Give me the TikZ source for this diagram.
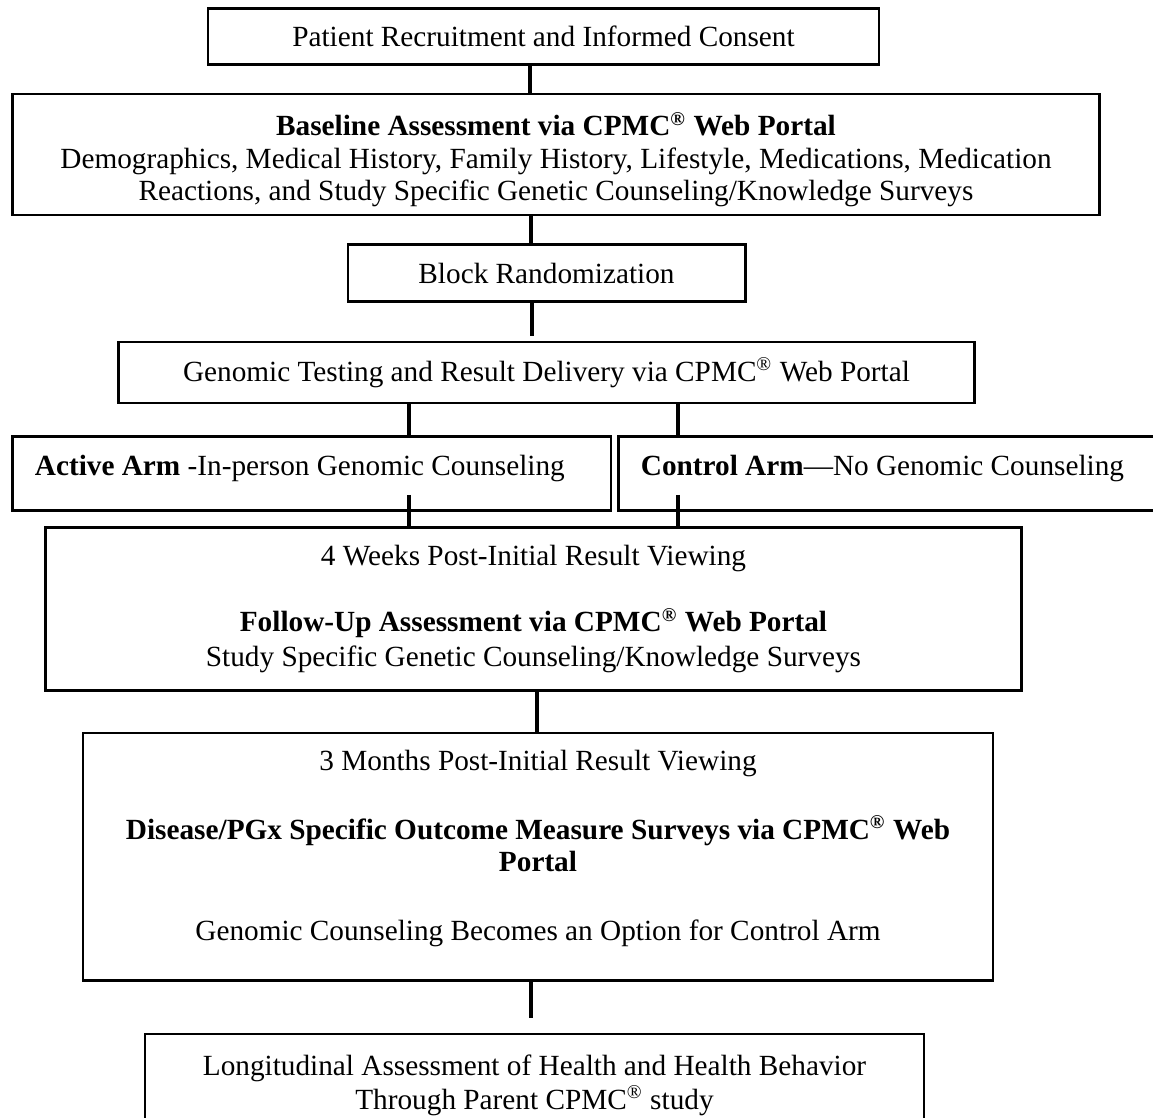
\documentclass[tikz,border=0pt]{standalone}
\usepackage{fontspec}
\setmainfont{Liberation Serif}
\tikzstyle{stage}=[draw, line width=1.2pt, inner sep=0pt, align=center, font=\fontsize{12}{13.3}\selectfont]
\tikzstyle{arm}=[stage, anchor=north west, align=flush left, inner xsep=9.2pt, text height=16pt, text depth=14.4pt]
\newcommand{\stage}{\node[stage]}
\newcommand{\cpmc}{CPMC\textsuperscript{\textregistered}}

\begin{document}
\begin{tikzpicture}[x=0.41pt, y=-0.41pt, every edge/.style={ draw, line width=1.6pt } ]
\useasboundingbox (0,0) rectangle (1153,1118);
\stage (recruit) at (543.5,36.5) [minimum width=275.1pt, minimum height=22.6pt] {Patient Recruitment and Informed Consent};
\stage (baseline) at (556,154.5) [minimum width=445.3pt, minimum height=49.6pt] {\rule{0pt}{14pt}\textbf{Baseline Assessment via \cpmc{} Web Portal}\\Demographics, Medical History, Family History, Lifestyle, Medications, Medication\\Reactions, and Study Specific Genetic Counseling/Knowledge Surveys};
\stage (random) at (546.5,273) [minimum width=162.8pt, minimum height=23pt] {Block Randomization};
\stage (genomic) at (546.5,372.5) [minimum width=350.6pt, minimum height=25pt] {Genomic Testing and Result Delivery via \cpmc{} Web Portal};
\node[arm, text width=227pt] (active) at (11,435) {\textbf{Active Arm} -In-person Genomic Counseling};
\node[arm, text width=210pt] (control) at (617,435) {\textbf{Control Arm}---No Genomic Counseling};
\stage (followup) at (533.5,609) [minimum width=399.8pt, minimum height=67.2pt] {4 Weeks Post-Initial Result Viewing\\[13.8pt]\textbf{Follow-Up Assessment via \cpmc{} Web Portal}\\[0.8pt]Study Specific Genetic Counseling/Knowledge Surveys};
\stage (outcome) at (538,856.5) [minimum width=373.1pt, minimum height=101.3pt] {3 Months Post-Initial Result Viewing\\[15pt]\textbf{Disease/PGx Specific Outcome Measure Surveys via \cpmc{} Web}\\\textbf{Portal}\\[15pt]Genomic Counseling Becomes an Option for Control Arm\rule[-9pt]{0pt}{0pt}};
\stage (longitudinal) at (534.5,1079) [minimum width=319.4pt, minimum height=36.9pt] {\rule{0pt}{13.5pt}Longitudinal Assessment of Health and Health Behavior\\[0.6pt]Through Parent \cpmc{} study};
% loose ends of the short links
\coordinate (randomEnd) at (532,336);
\coordinate (activeStart) at (409,495);
\coordinate (controlStart) at (678,495);
\coordinate (outcomeEnd) at (531,1018);
\path
(recruit.south -| 530,0) edge (baseline.north -| 530,0)
(baseline.south -| 531,0) edge (random.north -| 531,0)
(random.south -| randomEnd) edge (randomEnd)
(genomic.south -| activeStart) edge (active.north -| activeStart)
(genomic.south -| controlStart) edge (control.north -| controlStart)
(activeStart) edge (followup.north -| activeStart)
(controlStart) edge (followup.north -| controlStart)
(followup.south -| 537,0) edge (outcome.north -| 537,0)
(outcome.south -| outcomeEnd) edge (outcomeEnd)
;
\end{tikzpicture}
\end{document}
